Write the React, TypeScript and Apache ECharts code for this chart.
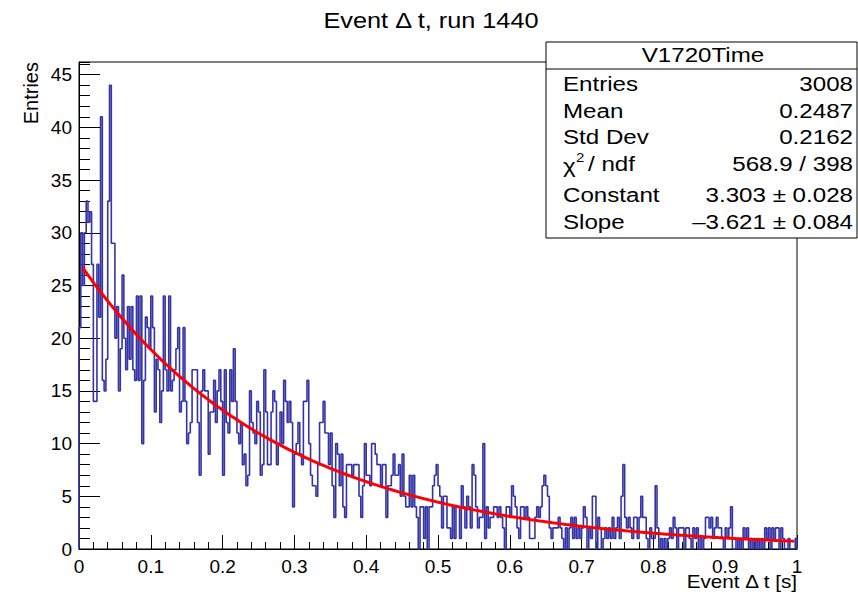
import React, { useEffect, useRef } from "react";
import * as echarts from "echarts";

// Histogram: 400 bins on [0, 1]
const binLow = 0;
const binHigh = 1;
const counts: number[] = [
  // 0-49
  21, 30, 25, 30, 33, 31, 32, 27, 14, 14,
  27, 22, 41, 16, 15, 18, 33, 44, 29, 29,
  20, 23, 15, 19, 26, 20, 17, 23, 18, 23,
  17, 16, 24, 16, 24, 10, 16, 22, 21, 19,
  24, 21, 13, 18, 17, 12, 15, 24, 17, 15,
  // 50-99
  24, 15, 16, 17, 19, 21, 13, 14, 21, 14,
  10, 11, 12, 17, 17, 17, 12, 7, 15, 17,
  15, 15, 9, 13, 13, 16, 12, 15, 17, 14,
  7, 17, 12, 11, 17, 14, 19, 14, 11, 10,
  12, 8, 9, 6, 7, 15, 12, 11, 10, 14,
  // 100-149
  13, 7, 8, 17, 13, 8, 8, 13, 15, 14,
  8, 10, 13, 10, 16, 14, 12, 14, 12, 4,
  9, 10, 12, 9, 8, 14, 14, 16, 10, 7,
  6, 6, 5, 8, 12, 12, 14, 11, 11, 8,
  11, 6, 3, 10, 9, 6, 9, 4, 3, 8,
  // 150-199
  8, 8, 7, 8, 8, 8, 5, 3, 6, 10,
  7, 7, 6, 10, 10, 9, 8, 8, 6, 8,
  8, 3, 6, 6, 7, 9, 7, 7, 8, 5,
  9, 5, 4, 4, 7, 4, 7, 4, 3, 0,
  4, 4, 1, 4, 0, 4, 4, 6, 7, 8,
  // 200-249
  6, 5, 2, 5, 5, 2, 2, 1, 4, 1,
  4, 4, 1, 6, 4, 2, 5, 4, 2, 8,
  7, 4, 2, 3, 3, 10, 1, 4, 2, 3,
  3, 4, 4, 3, 4, 3, 2, 0, 4, 4,
  3, 6, 5, 4, 2, 1, 4, 4, 3, 4,
  // 250-299
  3, 1, 1, 1, 3, 4, 3, 4, 6, 7,
  6, 5, 2, 1, 2, 2, 2, 3, 2, 1,
  0, 2, 0, 2, 3, 1, 3, 1, 2, 1,
  2, 4, 3, 0, 2, 1, 5, 5, 0, 3,
  2, 0, 1, 2, 1, 2, 1, 3, 1, 2,
  // 300-349
  3, 1, 5, 8, 3, 2, 3, 2, 1, 3,
  3, 1, 3, 5, 3, 3, 1, 0, 2, 1,
  1, 6, 2, 0, 1, 0, 1, 0, 1, 2,
  1, 3, 2, 0, 2, 2, 2, 0, 2, 2,
  1, 0, 2, 1, 2, 0, 1, 0, 1, 3,
  // 350-399
  3, 2, 3, 1, 2, 3, 2, 2, 1, 0,
  2, 1, 2, 4, 0, 0, 1, 0, 1, 0,
  2, 1, 2, 0, 1, 0, 1, 0, 1, 0,
  1, 0, 2, 1, 2, 0, 2, 1, 2, 2,
  0, 2, 1, 0, 0, 1, 0, 0, 0, 1,
];

// Fit: expo = exp(Constant + Slope * x)
const fitConstant = 3.303;
const fitSlope = -3.621;
const fitFrom = 0.005;
const fitTo = 0.996;

const titleText = "Event \u0394 t, run 1440";
const xTitle = "Event \u0394 t [s]";
const yTitle = "Entries";
const statName = "V1720Time";
const statLabels = ["Entries", "Mean", "Std Dev", "", "Constant", "Slope"];
const statValues = ["3008", "0.2487", "0.2162", "568.9 / 398", "3.303 \u00b1 0.028", "\u20133.621 \u00b1 0.084"];

const yMax = 46.2;

const FONT = "'Liberation Sans', Arial, Helvetica, sans-serif";

export default function App() {
  const ref = useRef<HTMLDivElement>(null);
  useEffect(() => {
    if (!ref.current) return;
    const chart = echarts.init(ref.current, undefined, { renderer: "svg" });
    const nBins = counts.length;
    const w = (binHigh - binLow) / nBins;
    const hist: number[][] = [[binLow, 0]];
    counts.forEach((c, i) => hist.push([binLow + i * w, c]));
    hist.push([binHigh, counts[nBins - 1]]);
    hist.push([binHigh, 0]);

    const fit: number[][] = [];
    const nf = 300;
    for (let k = 0; k <= nf; k++) {
      const x = fitFrom + ((fitTo - fitFrom) * k) / nf;
      fit.push([x, Math.exp(fitConstant + fitSlope * x)]);
    }

    const rowY = [84, 111, 137, 164, 195, 222];
    const statGraphics: any[] = [
      {
        type: "rect",
        shape: { x: 546, y: 42, width: 311, height: 196 },
        style: { fill: "#fff", stroke: "#000", lineWidth: 1 },
        z: 100,
      },
      {
        type: "line",
        shape: { x1: 546, y1: 69, x2: 857, y2: 69 },
        style: { stroke: "#000", lineWidth: 1 },
        z: 101,
      },
      {
        type: "text",
        x: 703,
        y: 55,
        scaleX: 1.15,
        style: { text: statName, font: `21px ${FONT}`, fill: "#000", align: "center", verticalAlign: "middle" },
        z: 101,
      },
    ];
    statLabels.forEach((lab, i) => {
      if (lab) {
        statGraphics.push({
          type: "text",
          x: 563,
          y: rowY[i],
          scaleX: 1.15,
          style: { text: lab, font: `21px ${FONT}`, fill: "#000", align: "left", verticalAlign: "middle" },
          z: 101,
        });
      }
      statGraphics.push({
        type: "text",
        x: 853,
        y: rowY[i],
        scaleX: 1.15,
        style: { text: statValues[i], font: `21px ${FONT}`, fill: "#000", align: "right", verticalAlign: "middle" },
        z: 101,
      });
    });
    // chi2 / ndf label
    statGraphics.push(
      {
        type: "text",
        x: 563,
        y: rowY[3] + 2,
        scaleX: 1.15,
        style: { text: "\u03c7", font: `21px ${FONT}`, fill: "#000", align: "left", verticalAlign: "middle" },
        z: 101,
      },
      {
        type: "text",
        x: 576,
        y: rowY[3] - 7,
        scaleX: 1.15,
        style: { text: "2", font: `13px ${FONT}`, fill: "#000", align: "left", verticalAlign: "middle" },
        z: 101,
      },
      {
        type: "text",
        x: 588,
        y: rowY[3],
        scaleX: 1.15,
        style: { text: "/ ndf", font: `21px ${FONT}`, fill: "#000", align: "left", verticalAlign: "middle" },
        z: 101,
      }
    );

    const option: any = {
      animation: false,
      backgroundColor: "#fff",
      textStyle: { fontFamily: FONT },
      grid: {
        left: 79,
        right: 61,
        top: 62,
        bottom: 46,
        show: true,
        borderColor: "#000",
        borderWidth: 1,
        backgroundColor: "transparent",
      },
      xAxis: [
        {
          type: "value",
          min: binLow,
          max: binHigh,
          interval: 0.1,
          axisLine: { show: true, onZero: false, lineStyle: { color: "#000", width: 1 } },
          axisTick: { show: true, inside: true, length: 14, lineStyle: { color: "#000", width: 1 } },
          minorTick: { show: true, splitNumber: 5, length: 7, lineStyle: { color: "#000", width: 1 } },
          splitLine: { show: false },
          minorSplitLine: { show: false },
          axisLabel: {
            color: "#000",
            fontSize: 19,
            fontFamily: FONT,
            margin: 8,
            formatter: (v: number) => String(Math.round(v * 10) / 10),
          },
        },
      ],
      yAxis: [
        {
          type: "value",
          min: 0,
          max: yMax,
          interval: 5,
          axisLine: { show: true, onZero: false, lineStyle: { color: "#000", width: 1 } },
          axisTick: { show: true, inside: true, length: 21, lineStyle: { color: "#000", width: 1 } },
          splitLine: { show: false },
          axisLabel: {
            color: "#000",
            fontSize: 19,
            fontFamily: FONT,
            margin: 7,
            showMaxLabel: false,
          },
        },
        {
          type: "value",
          min: 0,
          max: yMax,
          interval: 1,
          position: "left",
          axisLine: { show: false },
          axisTick: { show: true, inside: true, length: 11, lineStyle: { color: "#000", width: 1 } },
          splitLine: { show: false },
          axisLabel: { show: false },
        },
      ],
      graphic: [
        {
          type: "text",
          x: 431,
          y: 21,
          scaleX: 1.15,
          style: { text: titleText, font: `22px ${FONT}`, fill: "#000", align: "center", verticalAlign: "middle" },
        },
        {
          type: "text",
          x: 797,
          y: 582,
          scaleX: 1.15,
          style: { text: xTitle, font: `18px ${FONT}`, fill: "#000", align: "right", verticalAlign: "middle" },
        },
        {
          type: "text",
          x: 31,
          y: 62,
          rotation: Math.PI / 2,
          style: { text: yTitle, font: `20px ${FONT}`, fill: "#000", align: "right", verticalAlign: "middle" },
        },
        ...statGraphics,
      ],
      series: [
        {
          type: "line",
          xAxisIndex: 0,
          yAxisIndex: 0,
          data: hist,
          step: "end",
          showSymbol: false,
          symbol: "none",
          lineStyle: { color: "#3434a8", width: 1.6 },
          z: 2,
        },
        {
          type: "line",
          xAxisIndex: 0,
          yAxisIndex: 0,
          data: fit,
          showSymbol: false,
          symbol: "none",
          smooth: false,
          lineStyle: { color: "#ff0000", width: 3 },
          z: 3,
        },
      ],
    };
    chart.setOption(option);
    return () => chart.dispose();
  }, []);
  return (
    <div
      ref={ref}
      style={{ position: "fixed", left: 0, top: 0, width: 858, height: 595, background: "#fff" }}
    />
  );
}
